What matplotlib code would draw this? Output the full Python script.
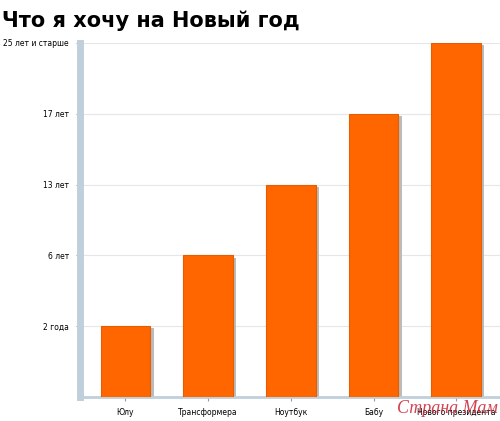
import matplotlib.pyplot as plt

categories = ["Юлу", "Трансформера", "Ноутбук", "Бабу", "Нового президента"]
values = [1, 2, 3, 4, 5]
ytick_labels = ["2 года", "6 лет", "13 лет", "17 лет", "25 лет и старше"]
ytick_pos = [1, 2, 3, 4, 5]

fig = plt.figure(figsize=(5, 4.21), dpi=100)
ax = fig.add_axes([0.16, 0.057, 0.84, 0.841])
x = list(range(len(categories)))
ax.bar([i + 0.04 for i in x], [v - 0.03 for v in values], width=0.6, color="#bbbbbb", zorder=2)
ax.bar(x, values, width=0.6, color="#ff6600", edgecolor="#e85c00", linewidth=0.8, zorder=3)
ax.set_xlim(-0.55, 4.53)
ax.set_ylim(0, 5)
ax.set_yticks(ytick_pos)
ax.set_yticklabels(ytick_labels, fontsize=5.5)
ax.set_xticks(x)
ax.set_xticklabels(categories, fontsize=5.5)
ax.yaxis.grid(True, color="#e6e6e6", linewidth=0.8, zorder=0)
ax.tick_params(axis="both", length=3, color="#999999", pad=5)
for s in ["top", "right"]:
    ax.spines[s].set_visible(False)
ax.spines["left"].set_color("#c0cfdc")
ax.spines["left"].set_linewidth(5)
ax.spines["bottom"].set_color("#c0cfdc")
ax.spines["bottom"].set_linewidth(2)
fig.text(0.005, 0.975, "Что я хочу на Новый год", fontsize=15, fontweight="bold", va="top", ha="left")
fig.text(0.995, 0.01, "Страна Мам", fontsize=13, color="#cc2233", fontstyle="italic",
         family="Liberation Serif", ha="right", va="bottom", alpha=0.85)
fig.savefig("out.png", dpi=100)
